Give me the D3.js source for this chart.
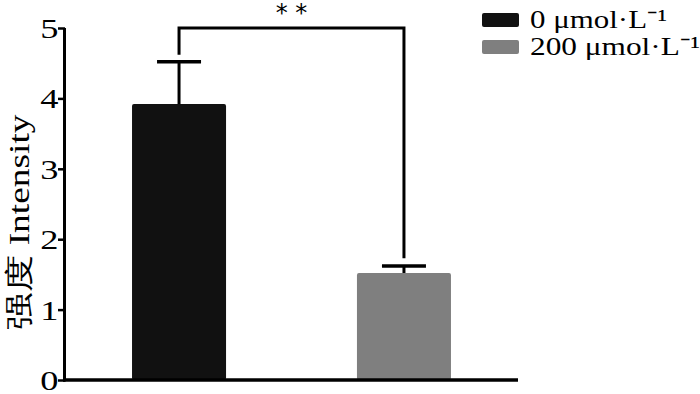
<!DOCTYPE html>
<html>
<head>
<meta charset="utf-8">
<script src="https://cdn.jsdelivr.net/npm/d3@7"></script>
<style>
  body { margin: 0; background: #fff; }
  svg text { font-family: "Liberation Serif", "Times New Roman", serif; }
</style>
</head>
<body>
<div id="chart"></div>
<script>
var groups = ["0 μmol·L⁻¹", "200 μmol·L⁻¹"];
var means = [3.92, 1.52];
var errors = [0.6, 0.1];
var colors = ["#111111", "#7f7f7f"];
var yTicks = [0, 1, 2, 3, 4, 5];

var width = 700, height = 394;

var svg = d3.select("#chart").append("svg")
    .attr("width", width)
    .attr("height", height);

var x = d3.scaleBand()
    .domain(groups)
    .range([65, 518])
    .paddingInner(0.582)
    .paddingOuter(0.298);

var y = d3.scaleLinear().domain([0, 5]).range([380, 28]);

// bars
svg.selectAll("rect.bar")
    .data(groups)
    .enter()
    .append("rect")
    .attr("class", "bar")
    .attr("x", function (d) { return x(d); })
    .attr("y", function (d, i) { return y(means[i]); })
    .attr("width", x.bandwidth())
    .attr("height", function (d, i) { return y(0) - y(means[i]); })
    .attr("rx", 2)
    .style("fill", function (d, i) { return colors[i]; });

// error bars (upper only)
groups.forEach(function (g, i) {
    var cx = x(g) + x.bandwidth() / 2;
    svg.append("line")
        .attr("x1", cx).attr("x2", cx)
        .attr("y1", y(means[i])).attr("y2", y(means[i] + errors[i]))
        .style("stroke", "#000").style("stroke-width", 3);
    svg.append("line")
        .attr("x1", cx - 22).attr("x2", cx + 22)
        .attr("y1", y(means[i] + errors[i])).attr("y2", y(means[i] + errors[i]))
        .style("stroke", "#000").style("stroke-width", 3.5);
});

// significance bracket
var c0 = x(groups[0]) + x.bandwidth() / 2;
var c1 = x(groups[1]) + x.bandwidth() / 2;
svg.append("path")
    .attr("d", "M" + c0 + "," + y(4.62) + "V" + y(5) + "H" + c1 + "V" + y(1.73))
    .style("fill", "none")
    .style("stroke", "#000")
    .style("stroke-width", 3);

svg.append("text")
    .attr("x", (c0 + c1) / 2)
    .attr("y", 21)
    .attr("text-anchor", "middle")
    .style("font-size", "24px")
    .style("font-family", "DejaVu Sans, sans-serif")
    .text("* *");

// y axis
var yAxis = d3.axisLeft(y).tickValues(yTicks).tickSize(7).tickFormat(d3.format("d"));
var gy = svg.append("g").attr("transform", "translate(65,0)").call(yAxis);
gy.select(".domain").style("stroke", "#000").style("stroke-width", 3)
    .attr("d", "M-0.5," + y(5) + "V" + (y(0) + 1.5));
gy.selectAll(".tick line").style("stroke", "#000").style("stroke-width", 2.5);
gy.selectAll(".tick text")
    .attr("x", -5)
    .attr("dy", "0.34em")
    .attr("transform", "scale(1.3,1)")
    .style("font-size", "28px")
    .style("fill", "#000")
    .style("font-family", "Liberation Serif, serif");

// x axis line
svg.append("line")
    .attr("x1", 63).attr("x2", 518)
    .attr("y1", y(0)).attr("y2", y(0))
    .style("stroke", "#000").style("stroke-width", 3.5);

// y label
svg.append("text")
    .attr("transform", "translate(29," + 222 + ") rotate(-90)")
    .attr("text-anchor", "middle")
    .attr("textLength", 215)
    .attr("lengthAdjust", "spacingAndGlyphs")
    .style("font-size", "29px")
    .style("fill", "#000")
    .text("强度 Intensity");

// legend
var legend = svg.selectAll("g.legend")
    .data(groups)
    .enter()
    .append("g")
    .attr("class", "legend")
    .attr("transform", function (d, i) { return "translate(482," + (13 + i * 27) + ")"; });

legend.append("rect")
    .attr("width", 37)
    .attr("height", 14)
    .attr("rx", 2)
    .style("fill", function (d, i) { return colors[i]; });

legend.append("text")
    .attr("x", 48)
    .attr("y", 15)
    .attr("textLength", function (d, i) { return i === 0 ? 137 : 170; })
    .attr("lengthAdjust", "spacingAndGlyphs")
    .style("font-size", "26px")
    .style("fill", "#000")
    .text(function (d) { return d; });
</script>
</body>
</html>
